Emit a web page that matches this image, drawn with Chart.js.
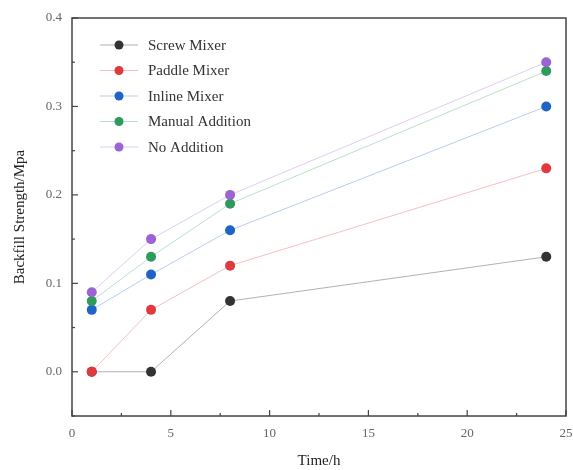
<!DOCTYPE html>
<html>
<head>
<meta charset="utf-8">
<script src="https://cdn.jsdelivr.net/npm/chart.js@4"></script>
<style>
  html, body { margin: 0; padding: 0; background: #fff; }
  #wrap { width: 573px; height: 470px; }
</style>
</head>
<body>
<div id="wrap"><canvas id="myChart" width="573" height="470"></canvas></div>
<script>
// Data
const times = [1, 4, 8, 24];
const seriesNames = ['Screw Mixer', 'Paddle Mixer', 'Inline Mixer', 'Manual Addition', 'No Addition'];
const screwMixer = [0.00, 0.00, 0.08, 0.13];
const paddleMixer = [0.00, 0.07, 0.12, 0.23];
const inlineMixer = [0.07, 0.11, 0.16, 0.30];
const manualAddition = [0.08, 0.13, 0.19, 0.34];
const noAddition = [0.09, 0.15, 0.20, 0.35];
const xTicks = [0, 5, 10, 15, 20, 25];
const yTicks = [0.0, 0.1, 0.2, 0.3, 0.4];

const allValues = [screwMixer, paddleMixer, inlineMixer, manualAddition, noAddition];
const dotColors = ['#333333', '#e0393e', '#1f63c6', '#2e9a5c', '#9b63d4'];
const lineColors = ['rgba(60,60,60,0.4)', 'rgba(224,57,62,0.32)', 'rgba(31,99,198,0.32)', 'rgba(46,154,92,0.32)', 'rgba(155,99,212,0.32)'];

const serif = "'Liberation Serif', 'DejaVu Serif', serif";

// Frame, inward ticks and inside legend
const framePlugin = {
    id: 'frame',
    afterDraw(chart) {
        const c = chart.ctx;
        const a = chart.chartArea;
        const xs = chart.scales.x;
        const ys = chart.scales.y;
        c.save();
        c.strokeStyle = '#444';
        c.lineWidth = 1.5;
        c.strokeRect(a.left, a.top, a.right - a.left, a.bottom - a.top);

        // x ticks (major + minor), pointing in
        c.lineWidth = 1.2;
        for (let v = 0; v <= 25; v += 2.5) {
            const px = xs.getPixelForValue(v);
            const len = (v % 5 === 0) ? 6 : 3;
            c.beginPath();
            c.moveTo(px, a.bottom);
            c.lineTo(px, a.bottom - len);
            c.stroke();
        }
        // y ticks
        for (let v = -0.05; v <= 0.4001; v += 0.05) {
            const py = ys.getPixelForValue(v);
            const major = Math.abs(Math.round(v * 10) - v * 10) < 1e-6;
            const len = major ? 6 : 3;
            c.beginPath();
            c.moveTo(a.left, py);
            c.lineTo(a.left + len, py);
            c.stroke();
        }

        // legend
        const lx = 100, ly = 45, step = 25.5;
        c.font = '15px ' + serif;
        c.textBaseline = 'middle';
        chart.data.datasets.forEach((ds, i) => {
            const y = ly + i * step;
            c.strokeStyle = lineColors[i];
            c.lineWidth = 1;
            c.beginPath();
            c.moveTo(lx, y);
            c.lineTo(lx + 38, y);
            c.stroke();
            c.fillStyle = dotColors[i];
            c.beginPath();
            c.arc(lx + 19, y, 4.5, 0, Math.PI * 2);
            c.fill();
            c.fillStyle = '#333';
            c.fillText(ds.label, lx + 48, y + 1);
        });
        c.restore();
    }
};

const datasets = seriesNames.map((name, i) => ({
    label: name,
    data: times.map((t, j) => ({ x: t, y: allValues[i][j] })),
    borderColor: lineColors[i],
    borderWidth: 1,
    backgroundColor: dotColors[i],
    pointBackgroundColor: dotColors[i],
    pointBorderWidth: 0,
    pointRadius: 5,
    tension: 0,
    order: seriesNames.length - i
}));

const ctx = document.getElementById('myChart').getContext('2d');
const chart = new Chart(ctx, {
    type: 'line',
    data: { datasets: datasets },
    plugins: [framePlugin],
    options: {
        responsive: false,
        animation: false,
        layout: { padding: { top: 18, right: 7, left: 0, bottom: 0 } },
        plugins: {
            legend: { display: false },
            tooltip: { enabled: false }
        },
        scales: {
            x: {
                type: 'linear',
                min: 0,
                max: 25,
                afterBuildTicks: s => { s.ticks = xTicks.map(v => ({ value: v })); },
                afterFit: s => { s.height = 54; s.paddingLeft = 0; s.paddingRight = 0; },
                grid: { display: false, drawTicks: false },
                border: { display: false },
                ticks: {
                    color: '#666',
                    font: { family: serif, size: 13 },
                    padding: 10
                },
                title: {
                    display: true,
                    text: 'Time/h',
                    color: '#222',
                    font: { family: serif, size: 15 },
                    padding: { top: 4, bottom: 0 }
                }
            },
            y: {
                min: -0.05,
                max: 0.4,
                afterBuildTicks: s => { s.ticks = yTicks.map(v => ({ value: v })); },
                afterFit: s => { s.width = 72; s.paddingTop = 0; s.paddingBottom = 0; },
                grid: { display: false, drawTicks: false },
                border: { display: false },
                ticks: {
                    color: '#666',
                    font: { family: serif, size: 13 },
                    padding: 10,
                    callback: v => v.toFixed(1)
                },
                title: {
                    display: true,
                    text: 'Backfill Strength/Mpa',
                    color: '#222',
                    font: { family: serif, size: 15 },
                    padding: { top: 11, bottom: 0 }
                }
            }
        }
    }
});
</script>
</body>
</html>
